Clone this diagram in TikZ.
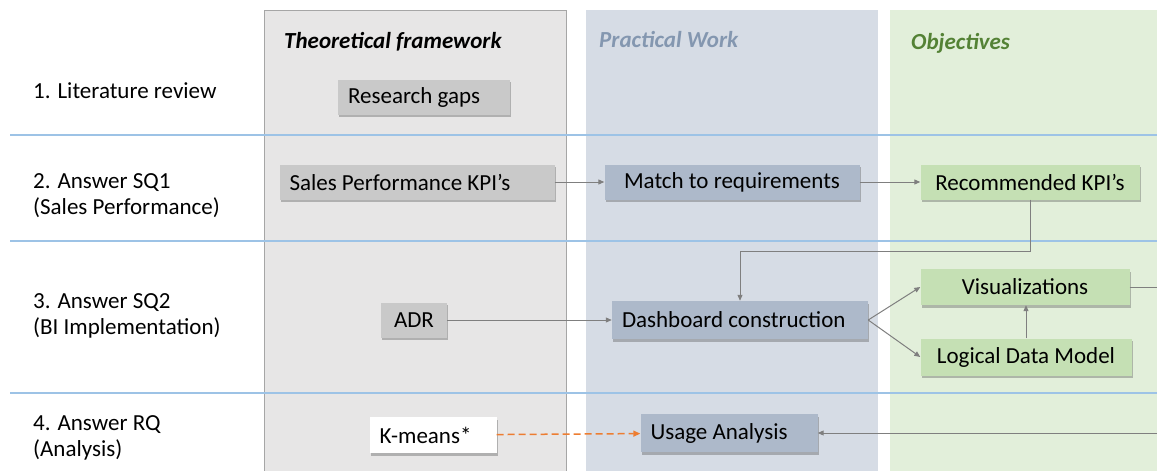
\documentclass[tikz,border=0pt]{standalone}
\usepackage{fontspec}
\setmainfont{Carlito}
\usetikzlibrary{arrows.meta,shadows}

\definecolor{theoryfill}{HTML}{E7E6E6}
\definecolor{theoryline}{HTML}{A6A6A6}
\definecolor{practfill}{HTML}{D6DCE5}
\definecolor{objfill}{HTML}{E2EFDA}
\definecolor{graybox}{HTML}{C9C9C9}
\definecolor{bluebox}{HTML}{ADB9CA}
\definecolor{greenbox}{HTML}{C5E0B4}
\definecolor{rowline}{HTML}{9DC3E6}
\definecolor{practtext}{HTML}{8497B0}
\definecolor{objtext}{HTML}{548235}
\definecolor{connc}{HTML}{7F7F7F}
\definecolor{orangec}{HTML}{ED7D31}

\tikzset{
  bodyfont/.style={font=\fontsize{23}{26}\selectfont},
  headfont/.style={font=\fontsize{23}{26}\selectfont\bfseries\itshape},
  box/.style={bodyfont, minimum height=35pt, inner xsep=10pt, inner ysep=2pt,
    drop shadow={shadow xshift=1pt, shadow yshift=-2.5pt, opacity=0.35, fill=black!70}},
  % box of a given width, text set from the left
  lbox/.style={box, text width=#1-20pt, align=flush left},
  % box of a given width, text centred
  cbox/.style={box, minimum width=#1},
  gfill/.style={fill=graybox},
  bfill/.style={fill=bluebox},
  ofill/.style={fill=greenbox},
  wfill/.style={fill=white},
  rowlabel/.style={bodyfont, anchor=west, align=left, inner sep=0pt},
  conn/.style={draw=connc, line width=1pt, -{Triangle[length=6pt,width=5pt]}},
  plainconn/.style={draw=connc, line width=1pt},
  sep/.style={draw=rowline, line width=1.6pt}
}

\begin{document}
\begin{tikzpicture}[x=1pt,y=-1pt]
\useasboundingbox (0,0) rectangle (1157,471);

% column backgrounds
\fill[theoryfill] (264,10) rectangle (566,471);
\draw[theoryline, line width=0.8pt] (264,471) -- (264,10) -- (566,10) -- (566,471);
\fill[practfill] (586,10) rectangle (878,471);
\fill[objfill] (890,10) rectangle (1157,471);

% row separators
\draw[sep] (10,135) -- (1157,135);
\draw[sep] (10,241) -- (1157,241);
\draw[sep] (10,393) -- (1157,393);

% column headings
\node[headfont, anchor=west, inner sep=0pt] (hth) at (284,42) {Theoretical framework};
\node[headfont, anchor=west, inner sep=0pt, text=practtext] (hpr) at (599,40) {Practical Work};
\node[headfont, anchor=west, inner sep=0pt, text=objtext] (hob) at (911,43) {Objectives};

% row labels
\node[rowlabel] (r1) at (33,91) {1. Literature review};
\node[rowlabel] (r2) at (33,196) {2. Answer SQ1\\(Sales Performance)};
\node[rowlabel] (r3) at (33,316) {3. Answer SQ2\\(BI Implementation)};
\node[rowlabel] (r4) at (33,438) {4. Answer RQ\\(Analysis)};

% boxes
\node[lbox=172pt, gfill] (gaps) at (424,97) {Research gaps};
\node[lbox=275pt, gfill] (skpi) at (417,182) {Sales Performance KPI’s};
\node[cbox=255pt, bfill] (match) at (732,182) {Match to requirements};
\node[cbox=219pt, ofill] (rec) at (1030,182) {Recommended KPI’s};
\node[cbox=66pt, gfill] (adr) at (414,320) {ADR};
\node[lbox=256pt, bfill, minimum height=38pt] (dash) at (740,320) {Dashboard construction};
\node[cbox=209pt, ofill, minimum height=36pt] (vis) at (1025,287) {Visualizations};
\node[cbox=211pt, ofill, minimum height=37pt] (ldm) at (1026,357) {Logical Data Model};
\node[lbox=127pt, wfill, minimum height=36pt] (km) at (433,435) {K-means*};
\node[lbox=177pt, bfill, minimum height=38pt] (ua) at (729,433) {Usage Analysis};

% edge points on the right border
\coordinate (visout) at (1157,287);
\coordinate (uain) at (1157,433);

% connectors
\draw[conn] (skpi) -- (match);
\draw[conn] (match) -- (rec);
\draw[conn] (rec.south) -- ++(0,52) -| (dash.north);
\draw[conn] (adr) -- (dash);
\draw[conn] (dash.east) -- (vis.west);
\draw[conn] (dash.east) -- (ldm.west);
\draw[conn] (ldm.north) -- (ldm.north |- vis.south);
\draw[plainconn] (vis.east) -- (visout);
\draw[conn] (uain) -- (ua.east);
\draw[draw=orangec, line width=1.5pt, dash pattern=on 7pt off 4pt,
      -{Triangle[length=7pt,width=6pt]}] (km) -- (ua);
\end{tikzpicture}
\end{document}
